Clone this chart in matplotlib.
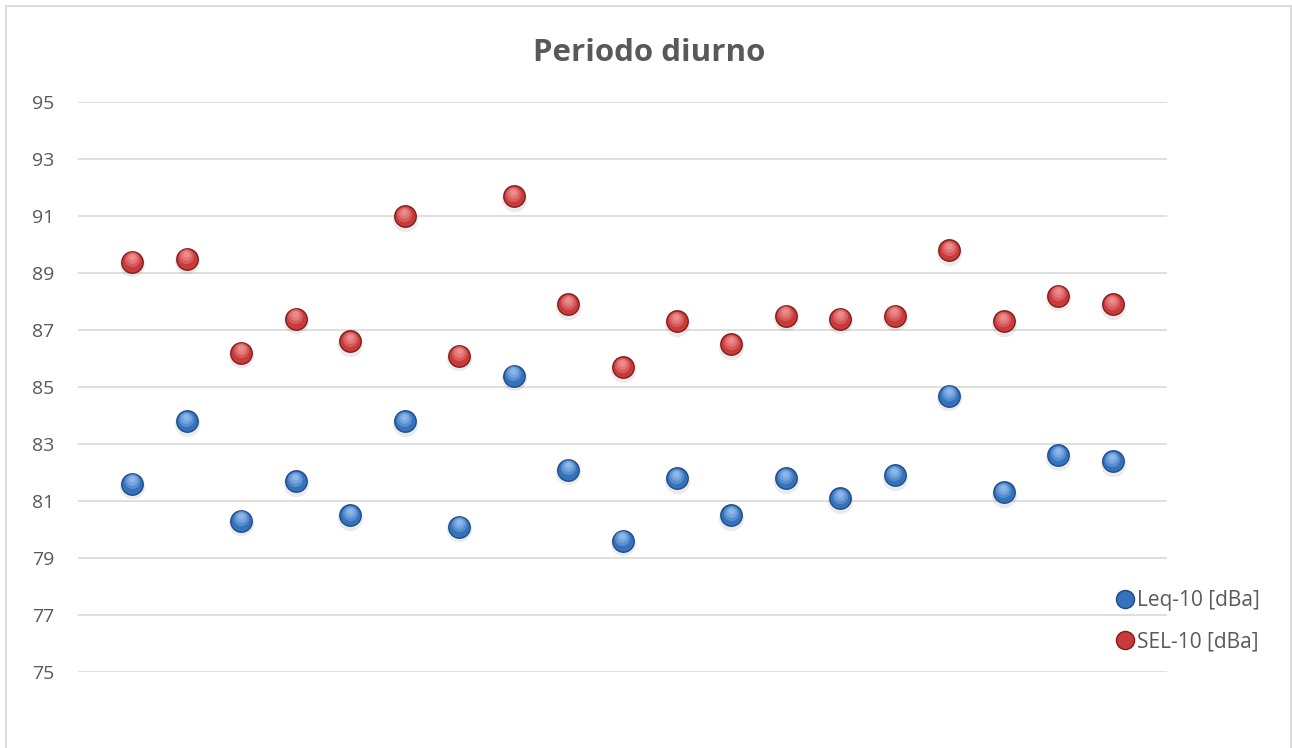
import numpy as np
import matplotlib
matplotlib.use("Agg")
import matplotlib.pyplot as plt
from matplotlib.patches import Rectangle
from matplotlib.lines import Line2D
from matplotlib.transforms import offset_copy

plt.rcParams['font.family'] = ['Open Sans', 'DejaVu Sans']

# data
points = list(range(1, 20))
leq = [81.6, 83.8, 80.3, 81.7, 80.5, 83.8, 80.1, 85.4, 82.1, 79.6,
       81.8, 80.5, 81.8, 81.1, 81.9, 84.7, 81.3, 82.6, 82.4]
sel = [89.4, 89.5, 86.2, 87.4, 86.6, 91.0, 86.1, 91.7, 87.9, 85.7,
       87.3, 86.5, 87.5, 87.4, 87.5, 89.8, 87.3, 88.2, 87.9]
series_names = ["Leq-10 [dBa]", "SEL-10 [dBa]"]
y_ticks = list(range(75, 96, 2))

W, H = 1292, 748
fig = plt.figure(figsize=(W / 100, H / 100), dpi=100)
fig.patch.set_facecolor("white")
fig.patches.append(Rectangle((6 / W, -0.01), (1291 - 6) / W, 1 - 6 / H + 0.01,
                             transform=fig.transFigure, fill=False,
                             edgecolor="#D9D9D9", lw=1.3))

ax = fig.add_axes([78 / W, 1 - 672 / H, (1167 - 78) / W, (672 - 102) / H])
ax.set_xlim(0, 20)
ax.set_ylim(75, 95)
ax.set_yticks(y_ticks)
ax.set_xticks([])
for s in ax.spines.values():
    s.set_visible(False)
ax.grid(axis="y", color="#D9D9D9", lw=1.2)
ax.set_axisbelow(True)
ax.tick_params(axis="y", length=0, pad=17, labelsize=14, labelcolor="#595959")


def spheres(x, y, base, dark, light):
    # fake 3d ball: shadow, dark rim, body, highlight
    sh = offset_copy(ax.transData, fig=fig, x=0, y=-2.5, units="dots")
    ax.scatter(x, y, s=330, color="#000000", alpha=0.08, lw=0, transform=sh, zorder=3)
    ax.scatter(x, y, s=270, color=dark, lw=0, zorder=4)
    ax.scatter(x, y, s=210, color=base, lw=0, zorder=5)
    for k, (sz, a) in enumerate([(120, 0.35), (60, 0.45), (20, 0.6)]):
        tr = offset_copy(ax.transData, fig=fig, x=-0.5, y=2.5 + k, units="dots")
        ax.scatter(x, y, s=sz, color=light, alpha=a, lw=0, transform=tr, zorder=6 + k)


spheres(points, leq, "#3572BC", "#1F4A85", "#9CC3F0")
spheres(points, sel, "#C93A3A", "#7E1C1C", "#F29A9A")

fig.text(649 / W, 1 - 53 / H, "Periodo diurno", ha="center", va="center",
         fontsize=22.5, fontweight="bold", color="#595959")

handles = [Line2D([], [], ls="", marker="o", ms=13, mfc="#3572BC", mec="#1F4A85", mew=1),
           Line2D([], [], ls="", marker="o", ms=13, mfc="#C93A3A", mec="#7E1C1C", mew=1)]
fig.legend(handles, series_names, loc="upper left",
           bbox_to_anchor=(1102 / W, 1 - 580 / H), frameon=False,
           fontsize=15, labelcolor="#595959", handletextpad=0.0,
           handlelength=1.2, labelspacing=0.95, borderpad=0)

fig.savefig("out.png", dpi=100)
